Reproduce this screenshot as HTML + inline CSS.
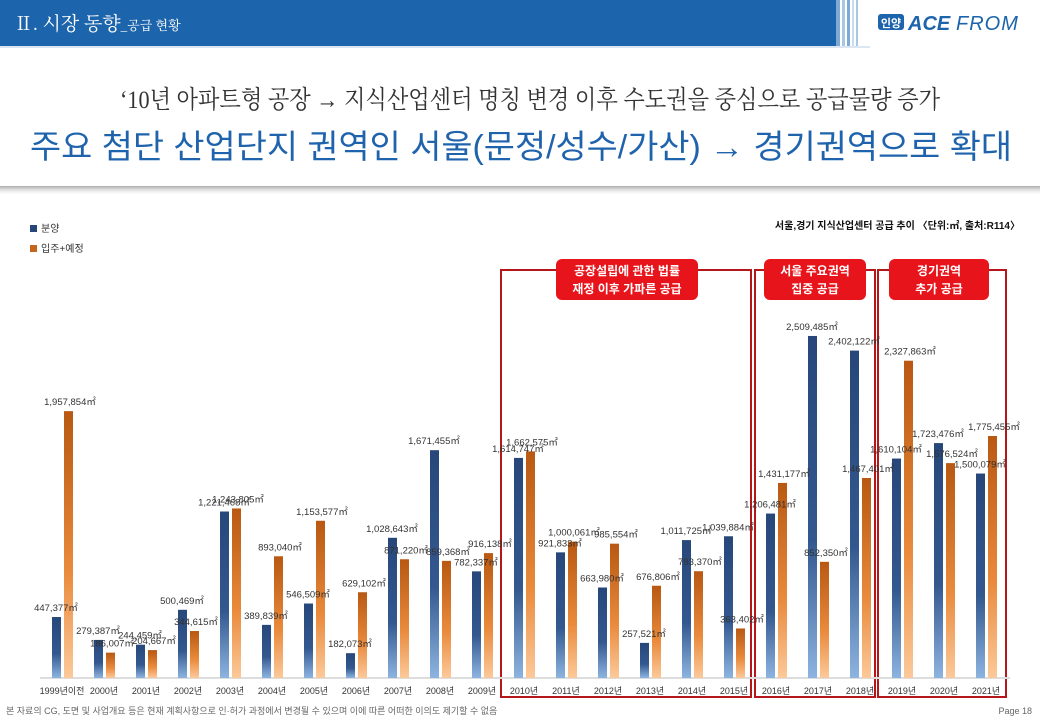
<!DOCTYPE html>
<html><head><meta charset="utf-8"><style>
html,body{margin:0;padding:0;background:#fff;}
body{width:1040px;height:720px;overflow:hidden;position:relative;font-family:"Liberation Sans","Noto Sans CJK KR",sans-serif;}
</style></head><body>
<svg width="1040" height="720" viewBox="0 0 1040 720" xmlns="http://www.w3.org/2000/svg" style="position:absolute;left:0;top:0">
<defs>
<linearGradient id="gb" x1="0" y1="0" x2="0" y2="1"><stop offset="0" stop-color="#27477a"/><stop offset="0.6" stop-color="#33588f"/><stop offset="1" stop-color="#8db4e0"/></linearGradient>
<linearGradient id="go" x1="0" y1="0" x2="0" y2="1"><stop offset="0" stop-color="#b85812"/><stop offset="0.6" stop-color="#e98a3c"/><stop offset="1" stop-color="#fcc99a"/></linearGradient>
<linearGradient id="sh" x1="0" y1="0" x2="0" y2="1"><stop offset="0" stop-color="#888" stop-opacity="0.7"/><stop offset="1" stop-color="#fff" stop-opacity="0"/></linearGradient>
</defs>
<rect x="0" y="0" width="836" height="46" fill="#1c64ab"/>
<rect x="836" y="0" width="4" height="46" fill="#7ea8d6"/>
<rect x="842" y="0" width="3" height="46" fill="#aac6e6"/>
<rect x="847" y="0" width="3" height="46" fill="#7ea8d6"/>
<rect x="852" y="0" width="2" height="46" fill="#c7dbef"/>
<rect x="856" y="0" width="2" height="46" fill="#aac6e6"/>
<rect x="0" y="46" width="870" height="2" fill="#dbe6f2"/>
<text x="14" y="30" font-size="19" fill="#fff" font-family="Liberation Serif,'Noto Serif CJK SC',serif">Ⅱ. 시장 동향<tspan font-size="13">_공급 현황</tspan></text>
<rect x="878" y="14" width="26" height="16" rx="3" fill="#1c64ab"/>
<text x="891" y="27" font-size="11" fill="#fff" text-anchor="middle" font-weight="bold">인양</text>
<text x="908" y="30" font-size="20" fill="#1c64ab" font-weight="bold" font-style="italic">ACE</text>
<text x="956" y="30" font-size="20" fill="#1c64ab" font-style="italic" letter-spacing="1">FROM</text>
<text x="120" y="108" font-size="25" fill="#333" textLength="820" lengthAdjust="spacingAndGlyphs" font-family="Liberation Serif,'Noto Serif CJK SC',serif">‘10년 아파트형 공장 → 지식산업센터 명칭 변경 이후 수도권을 중심으로 공급물량 증가</text>
<text x="30" y="158" font-size="33" fill="#1f63ad" textLength="982" lengthAdjust="spacingAndGlyphs">주요 첨단 산업단지 권역인 서울(문정/성수/가산) → 경기권역으로 확대</text>
<rect x="0" y="186" width="1040" height="10" fill="url(#sh)"/>
<rect x="30" y="225" width="7" height="7" fill="#27477a"/>
<text x="41" y="232" font-size="10" fill="#333">분양</text>
<rect x="30" y="245" width="7" height="7" fill="#c5651c"/>
<text x="41" y="252" font-size="10" fill="#333">입주+예정</text>
<text x="1020" y="229" font-size="10" fill="#111" text-anchor="end" font-weight="bold">서울,경기 지식산업센터 공급 추이 〈단위:㎡, 출처:R114〉</text>
<g fill="none" stroke="#b5161a" stroke-width="2">
<rect x="501" y="270" width="250" height="427"/>
<rect x="755" y="270" width="120" height="427"/>
<rect x="878" y="270" width="128" height="427"/>
</g>
<g fill="#e8141b">
<rect x="556" y="259" width="142" height="41" rx="6"/>
<rect x="764" y="259" width="102" height="41" rx="6"/>
<rect x="889" y="259" width="100" height="41" rx="6"/>
</g>
<g font-size="12" fill="#fff" text-anchor="middle" font-weight="bold">
<text x="627" y="275">공장설립에 관한 법률</text><text x="627" y="293">재정 이후 가파른 공급</text>
<text x="815" y="275">서울 주요권역</text><text x="815" y="293">집중 공급</text>
<text x="939" y="275">경기권역</text><text x="939" y="293">추가 공급</text>
</g>
<line x1="40" y1="678" x2="1010" y2="678" stroke="#ddd" stroke-width="2"/>
<g id="bars"></g>
<g id="lbls" font-size="9.5" fill="#333"></g>
<text x="6" y="714" font-size="9" fill="#666">본 자료의 CG, 도면 및 사업개요 등은 현재 계획사항으로 인·허가 과정에서 변경될 수 있으며 이에 따른 어떠한 이의도 제기할 수 없음</text>
<text x="1032" y="714" font-size="9" fill="#666" text-anchor="end">Page 18</text>
</svg>
<script>
var d=[["1999년이전",447377,1957854],["2000년",279387,186007],["2001년",244459,204667],["2002년",500469,344615],["2003년",1221468,1243805],["2004년",389839,893040],["2005년",546509,1153577],["2006년",182073,629102],["2007년",1028643,871220],["2008년",1671455,859368],["2009년",782337,916138],["2010년",1614747,1662575],["2011년",921833,1000061],["2012년",663980,985554],["2013년",257521,676806],["2014년",1011725,783370],["2015년",1039884,363402],["2016년",1206481,1431177],["2017년",2509485,852350],["2018년",2402122,1467401],["2019년",1610104,2327863],["2020년",1723476,1576524],["2021년",1500079,1775455]];
var ns="http://www.w3.org/2000/svg",B=document.getElementById("bars"),L=document.getElementById("lbls");
function el(p,t,a,tx){var e=document.createElementNS(ns,t);for(var k in a)e.setAttribute(k,a[k]);if(tx)e.textContent=tx;p.appendChild(e);}
var base=678,s=136.3/1e6;
d.forEach(function(r,i){var c=62+i*42;
var hb=r[1]*s,ho=r[2]*s;
el(B,"rect",{x:c-10,y:base-hb,width:9,height:hb,fill:"url(#gb)"});
el(B,"rect",{x:c+2,y:base-ho,width:9,height:ho,fill:"url(#go)"});
el(L,"text",{x:c-6,y:base-hb-6,"text-anchor":"middle"},r[1].toLocaleString("en-US")+"㎡");
el(L,"text",{x:c+8,y:base-ho-6,"text-anchor":"middle"},r[2].toLocaleString("en-US")+"㎡");
el(L,"text",{x:c,y:694,"text-anchor":"middle","font-size":"9"},r[0]);
});
</script>
</body></html>
